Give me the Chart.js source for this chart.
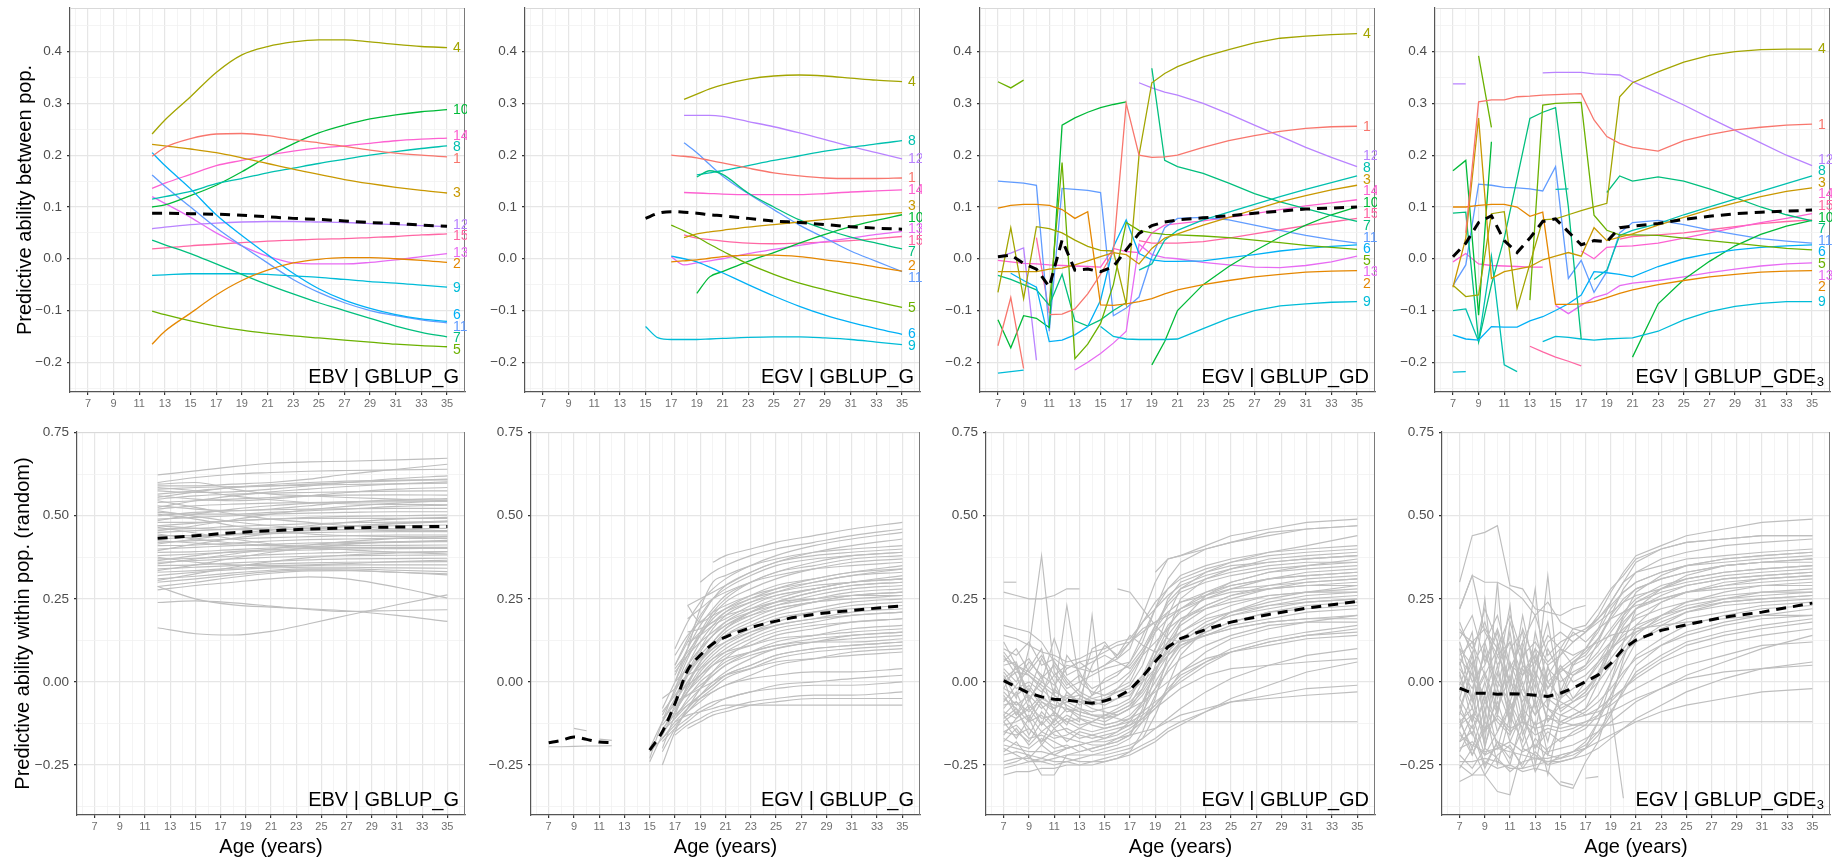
<!DOCTYPE html>
<html>
<head>
<meta charset="utf-8">
<script src="https://cdn.jsdelivr.net/npm/chart.js@4.4.1/dist/chart.umd.min.js"></script>
<style>
  html, body { margin: 0; padding: 0; background: #fff; width: 1833px; height: 859px; overflow: hidden; position: relative; }
  canvas { position: absolute; }
</style>
</head>
<body>
<script>
const NA = null;

// ---------- population colours / ids ----------
const POPS = ['1','2','3','4','5','6','7','8','9','10','11','12','13','14','15'];
const POP_COLORS = ['#F8766D','#E58700','#C99800','#A3A500','#6BB100','#00B0F6','#00BF7D',
                    '#00C0AF','#00BCD8','#00BA38','#619CFF','#B983FF','#E76BF3','#FD61D1','#FF67A4'];

// ---------- top row: predictive ability between populations ----------
const AGES_EBV_G = [12,13,15,17,19,21,23,25,27,29,31,33,35];
const EBV_G_POPS = [
  [0.198,0.215,0.232,0.241,0.242,0.238,0.230,0.224,0.217,0.210,0.204,0.200,0.197],
  [-0.165,-0.140,-0.105,-0.070,-0.042,-0.022,-0.008,-0.001,0.002,0.002,0.000,-0.003,-0.007],
  [0.221,0.218,0.212,0.205,0.195,0.184,0.173,0.163,0.153,0.145,0.138,0.132,0.127],
  [0.241,0.268,0.313,0.360,0.394,0.410,0.419,0.423,0.423,0.419,0.414,0.410,0.408],
  [-0.101,-0.108,-0.120,-0.130,-0.138,-0.144,-0.149,-0.153,-0.157,-0.161,-0.165,-0.168,-0.170],
  [0.205,0.180,0.135,0.085,0.045,0.008,-0.028,-0.058,-0.080,-0.096,-0.108,-0.116,-0.121],
  [0.036,0.027,0.010,-0.010,-0.030,-0.050,-0.068,-0.085,-0.100,-0.115,-0.130,-0.142,-0.151],
  [0.115,0.120,0.130,0.145,0.155,0.166,0.175,0.184,0.192,0.200,0.207,0.213,0.218],
  [-0.032,-0.031,-0.029,-0.029,-0.029,-0.030,-0.033,-0.036,-0.040,-0.044,-0.047,-0.051,-0.055],
  [0.100,0.104,0.122,0.142,0.168,0.197,0.222,0.243,0.258,0.270,0.278,0.284,0.288],
  [0.162,0.140,0.100,0.060,0.025,-0.008,-0.040,-0.065,-0.085,-0.100,-0.110,-0.118,-0.124],
  [0.058,0.061,0.066,0.069,0.071,0.072,0.072,0.071,0.070,0.068,0.066,0.064,0.062],
  [0.120,0.107,0.080,0.050,0.025,0.005,-0.008,-0.010,-0.010,-0.007,-0.002,0.004,0.010],
  [0.136,0.146,0.163,0.180,0.190,0.200,0.208,0.214,0.218,0.223,0.228,0.231,0.233],
  [0.019,0.021,0.025,0.028,0.031,0.034,0.036,0.038,0.039,0.041,0.043,0.046,0.048]
];
const EBV_G_MEAN = [0.088,0.088,0.087,0.086,0.084,0.081,0.078,0.076,0.073,0.070,0.068,0.065,0.063];

const AGES_EGV_G = [15,16,17,18,19,20,21,23,25,27,29,31,33,35];
const EGV_G_POPS = [
  [NA,NA,0.200,0.198,0.195,0.190,0.185,0.175,0.166,0.160,0.156,0.155,0.155,0.156],
  [NA,NA,-0.006,-0.004,-0.002,0.001,0.004,0.007,0.007,0.004,-0.002,-0.008,-0.016,-0.024],
  [NA,NA,NA,0.041,0.048,0.052,0.055,0.061,0.066,0.071,0.076,0.081,0.085,0.089],
  [NA,NA,NA,0.308,0.318,0.328,0.336,0.347,0.353,0.355,0.353,0.349,0.345,0.342],
  [NA,NA,0.065,0.054,0.042,0.028,0.015,-0.010,-0.030,-0.047,-0.060,-0.072,-0.083,-0.094],
  [NA,NA,0.005,0.000,-0.006,-0.016,-0.027,-0.050,-0.072,-0.092,-0.109,-0.123,-0.135,-0.146],
  [NA,NA,NA,NA,0.158,0.170,0.163,0.127,0.100,0.075,0.057,0.042,0.030,0.019],
  [NA,NA,NA,NA,0.162,0.166,0.170,0.180,0.190,0.199,0.208,0.215,0.222,0.228],
  [-0.131,-0.153,-0.156,-0.156,-0.156,-0.155,-0.154,-0.152,-0.151,-0.151,-0.153,-0.156,-0.161,-0.166],
  [NA,NA,NA,NA,-0.067,-0.035,-0.025,-0.005,0.012,0.030,0.047,0.062,0.074,0.085],
  [NA,NA,NA,0.224,0.205,0.182,0.160,0.126,0.095,0.065,0.040,0.015,-0.005,-0.025],
  [NA,NA,NA,0.277,0.277,0.277,0.275,0.265,0.255,0.243,0.230,0.217,0.205,0.193],
  [NA,NA,0.004,-0.012,-0.008,-0.004,0.000,0.010,0.018,0.026,0.033,0.040,0.047,0.053],
  [NA,NA,NA,0.128,0.127,0.126,0.125,0.124,0.124,0.124,0.126,0.129,0.131,0.133],
  [NA,NA,NA,0.046,0.040,0.037,0.034,0.030,0.029,0.030,0.032,0.035,0.039,0.043]
];
const EGV_G_MEAN = [0.078,0.088,0.091,0.090,0.088,0.085,0.083,0.078,0.073,0.070,0.066,0.062,0.059,0.057];

const AGES_EGV_GD = [7,8,9,10,11,12,13,14,15,16,17,18,19,20,21,23,25,27,29,31,33,35];
const EGV_GD_POPS = [
  [-0.168,-0.075,-0.212,NA,-0.108,-0.107,-0.097,-0.068,-0.030,0.014,0.300,0.200,0.196,0.197,0.200,0.215,0.228,0.238,0.246,0.252,0.255,0.256],
  [0.098,0.103,0.105,0.105,0.103,0.095,0.078,0.091,-0.089,-0.090,-0.087,-0.083,-0.077,-0.068,-0.060,-0.050,-0.042,-0.035,-0.030,-0.026,-0.024,-0.023],
  [-0.025,-0.025,-0.025,-0.025,-0.020,-0.018,-0.012,-0.004,0.004,0.012,0.008,-0.010,0.020,0.040,0.048,0.065,0.080,0.095,0.110,0.122,0.133,0.142],
  [-0.065,0.060,-0.077,0.062,0.058,0.050,0.036,0.024,0.016,0.015,-0.088,0.200,0.340,0.358,0.371,0.390,0.404,0.417,0.426,0.430,0.433,0.435],
  [0.342,0.330,0.345,NA,-0.090,0.186,-0.193,-0.165,-0.125,-0.050,0.070,0.055,0.050,0.047,0.046,0.044,0.041,0.036,0.031,0.026,0.022,0.018],
  [NA,-0.028,-0.042,-0.055,-0.160,-0.157,-0.147,-0.131,-0.080,0.023,0.075,0.010,-0.002,-0.005,-0.005,-0.004,0.002,0.008,0.015,0.020,0.024,0.027],
  [-0.032,-0.040,-0.050,-0.060,-0.090,-0.030,-0.120,-0.130,-0.118,-0.100,-0.085,NA,0.368,0.190,0.178,0.165,0.146,0.126,0.110,0.097,0.084,0.072],
  [NA,NA,NA,NA,NA,NA,NA,NA,NA,NA,NA,-0.022,-0.010,0.036,0.055,0.075,0.090,0.105,0.120,0.134,0.147,0.160],
  [-0.221,-0.218,-0.215,NA,NA,NA,NA,NA,-0.131,-0.150,-0.155,-0.156,-0.156,-0.156,-0.155,-0.135,-0.115,-0.100,-0.091,-0.087,-0.084,-0.083],
  [-0.118,-0.172,-0.110,-0.115,-0.133,0.258,0.272,0.283,0.292,0.298,0.303,NA,-0.205,-0.160,-0.100,-0.050,-0.015,0.015,0.042,0.065,0.085,0.100],
  [0.150,0.148,0.146,0.142,-0.140,0.136,0.134,0.132,0.128,-0.110,-0.095,-0.074,0.004,0.060,0.078,0.080,0.075,0.065,0.055,0.045,0.037,0.030],
  [0.004,0.011,0.021,-0.196,NA,NA,NA,NA,NA,NA,NA,0.340,0.330,0.322,0.316,0.300,0.280,0.258,0.237,0.215,0.196,0.178],
  [NA,NA,NA,NA,NA,NA,-0.215,-0.200,-0.183,-0.163,-0.140,0.028,0.008,0.002,0.000,-0.007,-0.012,-0.016,-0.017,-0.013,-0.006,0.005],
  [-0.003,-0.006,-0.009,-0.010,-0.012,-0.013,-0.014,-0.015,-0.016,0.020,0.014,0.012,0.050,0.065,0.068,0.073,0.080,0.087,0.095,0.102,0.108,0.114],
  [NA,NA,NA,0.041,-0.105,NA,NA,NA,NA,NA,NA,0.035,0.030,0.030,0.030,0.033,0.040,0.048,0.056,0.064,0.071,0.078]
];
const EGV_GD_MEAN = [0.004,0.007,-0.009,-0.020,-0.054,0.036,-0.022,-0.020,-0.025,-0.015,0.017,0.049,0.064,0.071,0.075,0.079,0.083,0.088,0.092,0.096,0.098,0.100];

const AGES_EGV_GDE3 = AGES_EGV_GD;
const EGV_GDE3_POPS = [
  [NA,0.050,0.303,0.307,0.307,0.313,0.314,0.316,0.317,0.318,0.319,0.268,0.236,0.223,0.215,0.208,0.228,0.240,0.249,0.254,0.258,0.260],
  [0.100,0.100,0.103,0.105,0.105,0.100,0.082,0.090,-0.088,-0.088,-0.087,-0.083,-0.075,-0.067,-0.060,-0.050,-0.042,-0.035,-0.030,-0.026,-0.024,-0.023],
  [-0.055,0.040,0.272,-0.038,-0.025,-0.020,-0.015,-0.002,0.005,0.012,0.005,0.060,0.035,0.042,0.048,0.065,0.080,0.095,0.108,0.120,0.130,0.137],
  [-0.051,-0.073,-0.070,0.087,0.091,-0.096,-0.010,0.075,0.077,0.085,0.093,0.100,0.107,0.313,0.340,0.361,0.380,0.393,0.400,0.404,0.405,0.405],
  [NA,NA,0.392,0.254,NA,NA,-0.080,0.297,0.300,0.301,0.302,0.084,0.055,0.046,0.046,0.045,0.040,0.035,0.030,0.025,0.020,0.017],
  [-0.147,-0.155,-0.157,-0.131,-0.132,-0.132,-0.120,-0.112,-0.100,-0.087,-0.070,-0.025,-0.027,-0.030,-0.035,-0.015,0.000,0.010,0.017,0.022,0.025,0.027],
  [0.088,0.090,-0.160,-0.050,0.040,0.155,0.271,0.283,0.292,0.100,-0.155,NA,0.128,0.160,0.150,0.158,0.150,0.135,0.118,0.100,0.085,0.073],
  [-0.100,-0.097,-0.160,0.005,-0.205,-0.218,NA,NA,0.134,0.135,NA,-0.040,-0.022,0.045,0.055,0.068,0.085,0.100,0.115,0.130,0.145,0.160],
  [-0.219,-0.218,NA,NA,NA,NA,NA,-0.160,-0.150,-0.152,-0.155,-0.157,-0.155,-0.154,-0.153,-0.140,-0.118,-0.102,-0.092,-0.086,-0.083,-0.083],
  [0.170,0.190,-0.109,0.226,NA,NA,NA,NA,NA,NA,NA,NA,NA,NA,-0.190,-0.087,-0.040,-0.005,0.025,0.047,0.063,0.074],
  [-0.052,-0.012,0.144,0.142,0.138,0.137,0.135,0.131,0.178,-0.038,-0.003,-0.065,-0.025,0.050,0.070,0.074,0.066,0.056,0.047,0.039,0.034,0.030],
  [0.338,0.338,NA,NA,NA,NA,NA,0.359,0.360,0.360,0.360,0.357,0.356,0.355,0.342,0.320,0.297,0.272,0.248,0.224,0.200,0.180],
  [NA,NA,NA,NA,NA,NA,NA,NA,-0.090,-0.106,-0.090,-0.075,-0.068,-0.052,-0.047,-0.042,-0.035,-0.027,-0.020,-0.014,-0.010,-0.008],
  [-0.006,0.010,-0.010,-0.013,-0.014,-0.015,-0.016,-0.016,NA,NA,0.015,0.000,0.022,0.024,0.025,0.030,0.040,0.050,0.060,0.070,0.078,0.087],
  [NA,NA,NA,NA,NA,NA,-0.169,-0.180,-0.190,-0.198,-0.207,NA,NA,0.038,0.043,0.046,0.050,0.056,0.062,0.068,0.072,0.075]
];
const EGV_GDE3_MEAN = [0.004,0.030,0.070,0.083,0.035,0.012,0.040,0.072,0.077,0.052,0.027,0.035,0.033,0.060,0.063,0.068,0.076,0.082,0.087,0.090,0.092,0.094];

// ---------- bottom row: predictive ability within populations (random folds) ----------
const AGES_W_EBV_G = [12,15,18,21,24,27,31,35];
const W_EBV_G_RUNS = [
  [0.623,0.635,0.648,0.658,0.662,0.664,0.668,0.673],
  [0.600,0.615,0.625,0.630,0.634,0.636,0.638,0.640],
  [0.590,0.590,0.595,0.600,0.610,0.625,0.640,0.655],
  [0.580,0.585,0.588,0.590,0.595,0.600,0.605,0.610],
  [0.575,0.570,0.572,0.580,0.590,0.600,0.612,0.620],
  [0.565,0.575,0.585,0.590,0.592,0.594,0.596,0.598],
  [0.560,0.550,0.545,0.550,0.560,0.570,0.580,0.585],
  [0.550,0.560,0.565,0.568,0.570,0.572,0.574,0.575],
  [0.540,0.545,0.550,0.555,0.560,0.562,0.563,0.562],
  [0.530,0.520,0.515,0.520,0.530,0.540,0.548,0.552],
  [0.520,0.530,0.535,0.538,0.540,0.541,0.542,0.543],
  [0.510,0.505,0.505,0.510,0.515,0.520,0.528,0.532],
  [0.500,0.510,0.515,0.518,0.520,0.521,0.522,0.522],
  [0.490,0.495,0.500,0.505,0.508,0.510,0.512,0.512],
  [0.480,0.480,0.485,0.490,0.495,0.498,0.500,0.502],
  [0.470,0.478,0.485,0.490,0.492,0.492,0.492,0.492],
  [0.460,0.462,0.468,0.472,0.476,0.479,0.481,0.482],
  [0.450,0.455,0.460,0.463,0.466,0.468,0.470,0.472],
  [0.440,0.440,0.445,0.450,0.455,0.458,0.460,0.462],
  [0.430,0.436,0.442,0.446,0.449,0.451,0.452,0.452],
  [0.420,0.425,0.430,0.434,0.437,0.440,0.442,0.442],
  [0.410,0.412,0.418,0.424,0.428,0.430,0.432,0.432],
  [0.400,0.405,0.410,0.414,0.418,0.420,0.421,0.422],
  [0.390,0.392,0.398,0.403,0.407,0.410,0.411,0.412],
  [0.380,0.385,0.390,0.394,0.397,0.400,0.401,0.402],
  [0.370,0.372,0.378,0.383,0.387,0.390,0.391,0.392],
  [0.360,0.365,0.370,0.375,0.378,0.380,0.381,0.382],
  [0.350,0.352,0.358,0.363,0.367,0.370,0.371,0.372],
  [0.340,0.345,0.350,0.355,0.358,0.360,0.361,0.362],
  [0.330,0.335,0.342,0.347,0.350,0.352,0.352,0.352],
  [0.320,0.330,0.338,0.343,0.345,0.345,0.343,0.342],
  [0.310,0.318,0.328,0.336,0.340,0.340,0.336,0.332],
  [0.300,0.310,0.322,0.332,0.337,0.336,0.330,0.322],
  [0.287,0.300,0.315,0.327,0.334,0.335,0.330,0.325],
  [0.277,0.290,0.300,0.310,0.316,0.310,0.285,0.252],
  [0.287,0.250,0.232,0.225,0.220,0.214,0.200,0.182],
  [0.239,0.244,0.238,0.228,0.218,0.212,0.215,0.217],
  [0.163,0.145,0.141,0.152,0.175,0.200,0.232,0.262],
  [0.595,0.600,0.580,0.565,0.560,0.555,0.550,0.545],
  [0.545,0.525,0.505,0.490,0.480,0.470,0.460,0.455],
  [0.465,0.448,0.430,0.415,0.405,0.398,0.390,0.385],
  [0.415,0.430,0.445,0.458,0.470,0.480,0.490,0.495],
  [0.355,0.370,0.385,0.400,0.412,0.422,0.432,0.438],
  [0.505,0.490,0.470,0.455,0.445,0.440,0.437,0.436],
  [0.585,0.575,0.560,0.548,0.540,0.536,0.534,0.533],
  [0.525,0.545,0.560,0.572,0.580,0.588,0.596,0.602],
  [0.455,0.470,0.488,0.505,0.518,0.528,0.538,0.545],
  [0.395,0.415,0.432,0.446,0.458,0.468,0.478,0.485],
  [0.445,0.430,0.418,0.410,0.406,0.404,0.403,0.402],
  [0.375,0.360,0.352,0.350,0.352,0.356,0.362,0.366],
  [0.335,0.352,0.372,0.390,0.404,0.414,0.422,0.426],
  [0.485,0.505,0.520,0.530,0.537,0.542,0.546,0.548],
  [0.515,0.498,0.482,0.470,0.462,0.458,0.455,0.454],
  [0.425,0.418,0.412,0.410,0.412,0.416,0.420,0.424],
  [0.365,0.380,0.392,0.398,0.402,0.404,0.405,0.405],
  [0.305,0.325,0.345,0.362,0.374,0.382,0.388,0.392],
  [0.555,0.572,0.585,0.594,0.600,0.604,0.607,0.608],
  [0.470,0.462,0.458,0.458,0.462,0.468,0.476,0.482]
];
const W_EBV_G_MEAN = [0.432,0.440,0.449,0.455,0.460,0.463,0.466,0.468];

const AGES_W_EGV_G_EARLY = [7,8,9,10,11,12];
const W_EGV_G_EARLY_RUNS = [
  [-0.195,-0.195,-0.194,-0.193,-0.193,-0.192],
  [NA,NA,-0.140,-0.147,NA,NA],
  [NA,NA,NA,NA,-0.172,-0.176]
];
const AGES_W_EGV_G_LATE = [15,16,17,18,19,20,21,23,25,28,31,35];
const W_EGV_G_LATE_RUNS = [
  [NA,NA,NA,NA,NA,0.36,0.38,0.40,0.42,0.44,0.46,0.48],
  [NA,NA,NA,NA,0.30,0.33,0.35,0.38,0.40,0.42,0.44,0.46],
  [NA,NA,0.10,0.18,0.24,0.28,0.31,0.35,0.38,0.41,0.43,0.45],
  [NA,NA,NA,0.23,0.25,0.27,0.29,0.33,0.36,0.39,0.41,0.43],
  [NA,NA,0.05,0.12,0.19,0.25,0.29,0.33,0.36,0.38,0.39,0.40],
  [NA,-0.08,0.00,0.08,0.15,0.21,0.25,0.30,0.33,0.36,0.38,0.39],
  [NA,NA,0.02,0.10,0.17,0.22,0.26,0.30,0.33,0.35,0.37,0.38],
  [-0.23,-0.12,-0.02,0.07,0.14,0.20,0.24,0.28,0.31,0.34,0.36,0.37],
  [NA,NA,NA,0.19,0.22,0.25,0.27,0.30,0.32,0.34,0.35,0.36],
  [NA,-0.10,-0.03,0.05,0.12,0.17,0.21,0.25,0.28,0.31,0.33,0.35],
  [NA,NA,-0.05,0.03,0.10,0.16,0.20,0.24,0.27,0.30,0.32,0.34],
  [NA,NA,0.08,0.14,0.18,0.21,0.23,0.26,0.28,0.30,0.32,0.33],
  [NA,-0.15,-0.07,0.02,0.09,0.14,0.18,0.22,0.25,0.28,0.30,0.32],
  [NA,NA,NA,0.11,0.15,0.18,0.21,0.24,0.26,0.28,0.30,0.31],
  [NA,NA,-0.02,0.05,0.10,0.14,0.17,0.21,0.24,0.27,0.29,0.30],
  [-0.20,-0.12,-0.05,0.02,0.08,0.12,0.16,0.20,0.23,0.26,0.28,0.29],
  [NA,NA,0.03,0.08,0.12,0.15,0.18,0.21,0.23,0.25,0.27,0.28],
  [NA,-0.12,-0.06,0.00,0.06,0.10,0.14,0.18,0.21,0.24,0.26,0.27],
  [NA,NA,NA,0.15,0.16,0.18,0.20,0.22,0.24,0.25,0.26,0.26],
  [NA,-0.09,-0.04,0.02,0.07,0.11,0.14,0.17,0.20,0.22,0.24,0.25],
  [NA,NA,-0.08,-0.02,0.04,0.08,0.11,0.15,0.18,0.21,0.23,0.24],
  [-0.24,-0.16,-0.09,-0.03,0.03,0.07,0.10,0.14,0.17,0.19,0.21,0.22],
  [NA,NA,0.00,0.04,0.07,0.10,0.12,0.15,0.17,0.19,0.20,0.21],
  [NA,-0.13,-0.08,-0.03,0.01,0.05,0.08,0.11,0.14,0.16,0.18,0.19],
  [NA,NA,-0.10,-0.06,-0.02,0.02,0.05,0.09,0.12,0.14,0.16,0.17],
  [NA,-0.05,-0.02,0.02,0.04,0.07,0.09,0.11,0.13,0.14,0.15,0.16],
  [-0.21,-0.17,-0.12,-0.08,-0.04,0.00,0.03,0.07,0.10,0.12,0.14,0.15],
  [NA,-0.11,-0.07,-0.04,-0.01,0.02,0.05,0.08,0.10,0.12,0.13,0.14],
  [NA,NA,-0.04,-0.01,0.02,0.05,0.07,0.09,0.11,0.12,0.12,0.13],
  [NA,-0.15,-0.11,-0.07,-0.04,-0.01,0.02,0.05,0.08,0.10,0.11,0.12],
  [NA,NA,-0.13,-0.09,-0.05,-0.02,0.01,0.04,0.07,0.09,0.10,0.11],
  [NA,-0.17,-0.13,-0.09,-0.06,-0.03,-0.01,0.02,0.05,0.07,0.09,0.10],
  [NA,NA,-0.06,-0.04,-0.02,0.00,0.02,0.04,0.06,0.07,0.08,0.09],
  [NA,-0.14,-0.10,-0.07,-0.05,-0.03,-0.01,0.01,0.02,0.03,0.03,0.04],
  [NA,NA,-0.15,-0.12,-0.09,-0.07,-0.05,-0.03,-0.01,0.00,0.01,0.02],
  [NA,-0.18,-0.14,-0.11,-0.08,-0.06,-0.05,-0.03,-0.02,-0.01,-0.01,0.00],
  [NA,NA,-0.16,-0.13,-0.11,-0.09,-0.08,-0.06,-0.05,-0.04,-0.04,-0.03],
  [NA,NA,NA,-0.14,-0.12,-0.10,-0.09,-0.07,-0.06,-0.05,-0.05,-0.05],
  [NA,NA,-0.12,-0.10,-0.09,-0.08,-0.07,-0.07,-0.07,-0.07,-0.07,-0.07],
  [NA,-0.25,-0.15,-0.08,-0.02,0.03,0.07,0.12,0.15,0.17,0.18,0.19],
  [NA,NA,0.00,0.10,0.22,0.30,0.32,0.35,0.37,0.39,0.40,0.41],
  [NA,NA,NA,0.23,0.18,0.20,0.22,0.25,0.27,0.29,0.30,0.31],
  [NA,NA,0.05,0.13,0.20,0.25,0.28,0.32,0.35,0.37,0.38,0.39],
  [NA,-0.20,-0.10,-0.01,0.06,0.12,0.16,0.21,0.24,0.27,0.29,0.30],
  [NA,NA,-0.09,-0.01,0.06,0.11,0.15,0.19,0.22,0.24,0.26,0.27],
  [NA,NA,NA,0.05,0.10,0.14,0.17,0.20,0.22,0.24,0.25,0.26],
  [NA,-0.16,-0.09,-0.03,0.02,0.06,0.09,0.13,0.16,0.18,0.20,0.21],
  [NA,NA,-0.11,-0.05,0.00,0.03,0.06,0.09,0.11,0.13,0.14,0.15],
  [NA,NA,0.04,0.09,0.14,0.19,0.22,0.26,0.29,0.31,0.33,0.34],
  [NA,-0.21,-0.14,-0.08,-0.04,-0.01,0.02,0.05,0.08,0.10,0.11,0.12],
  [NA,NA,NA,0.12,0.14,0.17,0.19,0.23,0.26,0.28,0.30,0.31],
  [NA,NA,-0.06,0.00,0.05,0.09,0.12,0.16,0.19,0.21,0.22,0.23]
];
const AGES_W_EGV_G_MEAN = [7,8,9,10,11,12,13,15,16,17,18,19,20,21,23,25,28,31,35];
const W_EGV_G_MEAN = [-0.183,-0.176,-0.166,-0.173,-0.181,-0.183,NA,-0.205,-0.150,-0.065,0.035,0.080,0.115,0.135,0.163,0.183,0.203,0.215,0.229];

const AGES_W_GD = [7,8,9,10,11,12,13,14,15,16,17,18,19,20,21,23,25,28,31,35];
const W_EGV_GD_RUNS = [
  [0.10,0.08,0.12,0.05,0.07,0.04,0.06,0.03,0.05,0.07,0.10,0.20,0.30,0.37,0.38,0.41,0.44,0.46,0.48,0.49],
  [0.27,0.26,0.25,0.25,0.26,0.28,0.28,NA,NA,NA,NA,NA,NA,NA,NA,NA,NA,NA,NA,NA],
  [0.30,0.30,NA,NA,NA,NA,NA,NA,NA,NA,NA,NA,NA,NA,NA,NA,NA,NA,NA,NA],
  [0.02,-0.05,0.10,0.38,0.03,-0.02,0.00,0.02,0.04,0.05,0.06,0.12,0.22,0.31,0.36,0.40,0.42,0.44,0.46,0.47],
  [-0.05,-0.08,-0.12,-0.10,-0.14,-0.11,-0.13,-0.12,-0.10,-0.09,-0.07,0.00,0.10,0.20,0.28,0.33,0.36,0.39,0.41,0.44],
  [0.05,0.06,-0.05,0.00,0.13,0.02,0.04,0.03,0.05,0.08,0.12,0.18,0.24,0.28,0.31,0.34,0.36,0.38,0.39,0.40],
  [-0.10,-0.15,-0.18,-0.12,-0.16,-0.17,-0.18,-0.19,-0.19,-0.18,-0.16,-0.10,0.02,0.15,0.25,0.31,0.34,0.37,0.38,0.39],
  [0.00,0.03,0.02,-0.02,-0.06,-0.04,-0.06,-0.05,-0.04,-0.03,-0.01,0.05,0.15,0.25,0.30,0.33,0.35,0.36,0.37,0.38],
  [-0.20,-0.22,-0.24,-0.23,-0.24,-0.24,-0.25,-0.25,-0.24,-0.23,-0.21,-0.15,-0.05,0.08,0.18,0.26,0.30,0.33,0.35,0.37],
  [0.08,0.02,-0.08,-0.04,0.06,0.01,-0.03,-0.05,-0.06,-0.02,0.00,0.08,0.17,0.24,0.28,0.31,0.33,0.35,0.36,0.36],
  [-0.13,-0.12,-0.10,-0.15,-0.12,-0.08,-0.10,-0.11,-0.12,-0.10,-0.08,-0.02,0.08,0.16,0.22,0.27,0.30,0.33,0.34,0.35],
  [0.12,0.05,0.03,0.00,-0.03,-0.05,-0.02,0.10,0.12,0.07,0.12,0.16,0.18,0.20,0.22,0.26,0.29,0.31,0.33,0.34],
  [-0.03,-0.07,-0.04,-0.08,-0.05,-0.09,-0.08,-0.09,-0.08,-0.07,-0.05,0.02,0.10,0.17,0.21,0.25,0.28,0.31,0.32,0.33],
  [-0.17,-0.19,-0.20,-0.17,-0.20,-0.19,-0.21,-0.20,-0.19,-0.18,-0.16,-0.08,0.05,0.12,0.18,0.23,0.26,0.29,0.31,0.32],
  [0.04,0.00,0.06,0.02,-0.01,0.04,0.06,0.07,0.09,0.11,0.12,0.15,0.18,0.21,0.24,0.26,0.28,0.29,0.30,0.31],
  [-0.08,-0.03,-0.12,-0.06,-0.09,-0.13,-0.05,-0.07,-0.06,-0.05,-0.04,0.01,0.08,0.14,0.19,0.23,0.26,0.28,0.29,0.30],
  [-0.26,-0.25,-0.24,-0.24,-0.25,-0.24,-0.23,-0.22,-0.22,-0.21,-0.20,-0.17,-0.10,-0.01,0.08,0.16,0.21,0.25,0.27,0.29],
  [0.01,-0.10,-0.05,-0.13,-0.02,-0.06,-0.08,-0.10,-0.11,-0.09,-0.07,-0.03,0.03,0.10,0.15,0.20,0.23,0.26,0.27,0.28],
  [-0.06,-0.01,0.04,0.10,-0.04,0.23,0.00,-0.03,-0.04,-0.02,0.02,0.08,0.12,0.16,0.19,0.22,0.24,0.26,0.27,0.27],
  [-0.15,-0.16,-0.14,-0.18,-0.15,-0.14,-0.16,-0.17,-0.16,-0.15,-0.13,-0.09,-0.02,0.06,0.12,0.17,0.20,0.23,0.25,0.26],
  [0.07,0.05,0.02,-0.01,-0.04,-0.07,-0.09,-0.10,-0.11,-0.10,-0.08,-0.04,0.02,0.08,0.12,0.17,0.20,0.22,0.24,0.25],
  [-0.11,-0.08,-0.16,-0.09,-0.13,-0.10,-0.12,0.20,-0.13,-0.12,-0.10,-0.06,0.00,0.06,0.11,0.15,0.18,0.21,0.23,0.24],
  [0.17,0.16,0.15,0.12,0.06,0.00,-0.04,-0.06,-0.07,-0.05,-0.03,0.00,0.04,0.08,0.11,0.14,0.17,0.19,0.21,0.22],
  [-0.22,-0.21,-0.22,-0.28,-0.28,-0.22,-0.21,-0.20,-0.19,-0.17,-0.15,-0.12,-0.08,-0.03,0.03,0.09,0.13,0.16,0.18,0.20],
  [-0.02,-0.04,-0.01,-0.06,-0.08,-0.06,-0.05,0.05,0.11,0.08,0.14,0.11,0.09,0.11,0.12,0.14,0.16,0.18,0.19,0.19],
  [-0.18,-0.14,-0.19,-0.15,-0.17,-0.16,-0.14,-0.15,-0.14,-0.13,-0.12,-0.10,-0.07,-0.03,0.01,0.06,0.10,0.13,0.15,0.17],
  [-0.09,-0.11,-0.07,-0.11,-0.10,-0.12,-0.11,-0.12,-0.13,-0.12,-0.11,-0.09,-0.06,-0.03,0.00,0.05,0.09,0.12,0.14,0.16],
  [0.03,-0.02,0.00,-0.03,0.02,-0.03,-0.06,-0.08,-0.09,-0.10,-0.08,-0.06,-0.03,0.00,0.03,0.07,0.09,0.11,0.13,0.14],
  [-0.24,-0.23,-0.23,-0.24,-0.23,-0.22,-0.22,-0.22,-0.21,-0.20,-0.19,-0.17,-0.14,-0.11,-0.08,-0.03,0.01,0.05,0.08,0.10],
  [-0.28,-0.27,-0.27,-0.26,-0.26,-0.25,-0.25,-0.24,-0.24,-0.23,-0.22,-0.20,-0.18,-0.15,-0.13,-0.09,-0.05,-0.01,0.03,0.06],
  [-0.12,-0.17,-0.11,-0.19,-0.14,-0.18,-0.15,-0.16,-0.15,-0.14,-0.13,-0.11,-0.08,-0.05,-0.02,0.02,0.04,0.05,0.06,0.07],
  [-0.07,-0.06,-0.09,-0.05,-0.07,-0.08,-0.09,-0.10,-0.10,-0.11,-0.12,-0.12,-0.12,-0.12,-0.12,-0.12,-0.12,-0.12,-0.12,-0.12],
  [-0.19,-0.20,-0.21,-0.21,-0.22,-0.23,-0.24,-0.24,-0.23,-0.22,-0.21,-0.19,-0.17,-0.14,-0.12,-0.09,-0.06,-0.04,-0.02,-0.01],
  [-0.15,-0.13,-0.17,-0.16,-0.18,-0.20,-0.19,-0.18,-0.18,-0.17,-0.16,-0.15,-0.14,-0.12,-0.10,-0.08,-0.06,-0.05,-0.04,-0.03],
  [NA,NA,NA,NA,NA,NA,NA,NA,NA,0.28,0.27,0.22,0.17,0.13,0.12,0.14,0.16,0.18,0.19,0.20],
  [NA,NA,NA,NA,NA,NA,NA,NA,NA,NA,NA,NA,0.33,0.37,0.38,0.40,0.42,0.45,0.46,0.47],
  [0.14,0.13,0.11,0.09,0.08,0.06,0.07,0.09,0.10,0.12,0.13,0.18,0.22,0.26,0.29,0.32,0.34,0.36,0.37,0.38],
  [-0.02,0.05,-0.06,0.02,-0.10,0.08,0.03,-0.04,0.01,0.03,0.05,0.10,0.17,0.23,0.27,0.30,0.32,0.34,0.35,0.36],
  [-0.12,-0.09,-0.14,-0.18,-0.11,-0.15,-0.17,-0.16,-0.17,-0.15,-0.12,-0.06,0.03,0.11,0.17,0.22,0.25,0.28,0.30,0.31],
  [0.06,0.10,0.03,0.08,0.02,0.05,0.04,0.06,0.08,0.06,0.04,0.09,0.16,0.21,0.24,0.27,0.29,0.31,0.32,0.33],
  [-0.21,-0.18,-0.23,-0.19,-0.22,-0.20,-0.19,-0.21,-0.20,-0.19,-0.17,-0.12,-0.04,0.04,0.10,0.15,0.18,0.21,0.22,0.23],
  [-0.04,-0.10,-0.02,-0.07,-0.12,-0.03,-0.07,-0.04,-0.02,0.00,0.03,0.09,0.15,0.19,0.22,0.25,0.27,0.28,0.29,0.29],
  [0.01,0.04,-0.03,0.07,0.00,-0.08,-0.11,-0.13,-0.14,-0.13,-0.11,-0.07,-0.02,0.03,0.07,0.11,0.14,0.17,0.18,0.18],
  [-0.16,-0.11,-0.08,-0.13,-0.09,-0.12,-0.14,-0.12,-0.10,-0.08,-0.06,-0.02,0.04,0.09,0.13,0.18,0.21,0.24,0.26,0.27],
  [0.09,0.04,0.07,0.01,0.05,-0.01,0.02,-0.02,0.00,0.02,0.06,0.14,0.22,0.28,0.32,0.35,0.37,0.39,0.40,0.41],
  [-0.10,-0.06,-0.11,-0.04,-0.08,-0.05,-0.04,-0.06,-0.05,-0.03,-0.02,0.02,0.07,0.12,0.15,0.19,0.21,0.23,0.24,0.25],
  [-0.25,-0.24,-0.22,-0.23,-0.21,-0.20,-0.19,-0.18,-0.17,-0.16,-0.14,-0.11,-0.07,-0.02,0.02,0.06,0.09,0.12,0.14,0.15]
];
const W_EGV_GD_MEAN = [0.004,-0.015,-0.034,-0.045,-0.052,-0.055,-0.060,-0.064,-0.057,-0.045,-0.024,0.016,0.061,0.105,0.130,0.158,0.180,0.203,0.222,0.242];

const W_EGV_GDE3_RUNS = [
  [0.30,0.44,0.45,0.47,0.29,0.28,0.22,0.21,0.20,0.22,0.23,NA,NA,NA,NA,NA,NA,NA,NA,NA],
  [0.22,0.32,0.15,0.08,0.12,-0.02,0.10,0.05,0.08,0.12,0.15,0.20,0.27,0.33,0.38,0.41,0.44,0.46,0.48,0.49],
  [0.10,-0.05,0.25,-0.10,0.18,0.05,0.28,-0.08,0.10,0.16,0.17,0.22,0.28,0.32,0.37,0.40,0.42,0.43,0.44,0.44],
  [-0.05,0.08,-0.12,0.30,-0.15,0.12,-0.02,0.32,-0.05,0.02,0.05,0.12,0.20,0.28,0.33,0.37,0.39,0.41,0.42,0.43],
  [0.15,0.12,0.16,0.10,0.20,0.08,0.12,0.06,0.10,0.08,0.10,0.16,0.24,0.30,0.33,0.35,0.37,0.38,0.39,0.40],
  [-0.12,-0.20,-0.08,-0.25,-0.10,-0.18,-0.05,-0.22,-0.12,-0.10,-0.08,0.00,0.10,0.20,0.27,0.32,0.35,0.37,0.38,0.39],
  [0.05,0.15,-0.15,0.02,0.23,-0.10,0.15,0.00,-0.05,0.05,0.10,0.15,0.22,0.27,0.30,0.33,0.35,0.36,0.37,0.38],
  [-0.25,-0.28,-0.28,-0.33,-0.34,-0.20,-0.22,-0.25,-0.24,-0.23,-0.20,-0.12,0.00,0.12,0.22,0.28,0.32,0.35,0.36,0.37],
  [0.02,-0.08,0.10,-0.05,0.05,-0.12,0.08,-0.02,0.03,0.06,0.08,0.13,0.20,0.25,0.28,0.31,0.33,0.35,0.36,0.36],
  [-0.18,-0.10,-0.22,-0.15,-0.06,-0.20,-0.12,-0.28,-0.10,-0.08,-0.05,0.02,0.12,0.19,0.24,0.28,0.31,0.33,0.34,0.35],
  [0.12,0.00,0.05,0.15,-0.02,0.20,0.02,0.12,0.15,0.12,0.15,0.18,0.21,0.24,0.26,0.28,0.30,0.32,0.33,0.34],
  [-0.08,0.03,-0.18,0.12,-0.08,0.00,-0.15,0.05,-0.09,-0.06,-0.03,0.03,0.10,0.17,0.22,0.26,0.29,0.31,0.32,0.33],
  [-0.30,-0.28,-0.24,-0.26,-0.25,-0.27,-0.26,-0.27,-0.31,-0.32,-0.24,-0.18,-0.06,0.07,0.17,0.24,0.27,0.30,0.31,0.32],
  [0.08,0.12,0.02,-0.10,0.10,0.15,-0.05,0.10,0.02,-0.05,0.00,0.06,0.12,0.18,0.22,0.25,0.27,0.29,0.30,0.31],
  [-0.15,-0.22,-0.12,-0.18,-0.25,-0.10,-0.20,-0.15,-0.18,-0.15,-0.13,-0.08,0.00,0.08,0.14,0.20,0.24,0.27,0.29,0.30],
  [0.00,-0.05,0.03,-0.08,0.06,-0.04,-0.10,0.02,0.08,0.15,0.12,0.16,0.19,0.21,0.23,0.25,0.27,0.28,0.29,0.29],
  [-0.10,0.05,-0.20,-0.02,-0.12,0.10,-0.25,-0.08,-0.12,-0.10,-0.08,-0.04,0.03,0.10,0.15,0.19,0.22,0.25,0.27,0.28],
  [0.04,-0.02,0.08,0.00,-0.06,0.05,0.00,-0.12,-0.05,-0.02,0.00,0.05,0.10,0.14,0.17,0.20,0.23,0.25,0.26,0.27],
  [-0.20,-0.18,-0.22,-0.20,-0.18,-0.21,-0.19,-0.22,-0.23,-0.21,-0.18,-0.12,-0.04,0.05,0.12,0.17,0.21,0.24,0.25,0.26],
  [0.16,0.10,0.18,0.05,0.12,0.02,0.08,-0.02,0.05,0.00,0.02,0.06,0.10,0.13,0.15,0.18,0.21,0.23,0.24,0.25],
  [-0.05,-0.12,0.00,-0.15,-0.08,-0.02,-0.10,-0.05,-0.08,-0.06,-0.04,0.00,0.05,0.09,0.12,0.16,0.19,0.21,0.23,0.24],
  [-0.22,-0.26,-0.20,-0.23,-0.27,-0.24,-0.23,-0.24,-0.23,-0.22,-0.20,-0.16,-0.10,-0.02,0.05,0.11,0.15,0.18,0.20,0.22],
  [0.10,0.05,0.12,0.20,0.05,0.02,0.06,0.00,0.04,0.07,0.10,0.12,0.14,0.15,0.16,0.17,0.18,0.19,0.20,0.20],
  [-0.12,-0.08,-0.15,-0.10,-0.14,-0.12,-0.16,-0.14,-0.15,-0.14,-0.12,-0.10,-0.06,-0.02,0.02,0.07,0.11,0.14,0.16,0.18],
  [-0.03,0.06,-0.06,0.03,-0.10,0.04,-0.04,-0.08,-0.10,-0.11,-0.10,-0.08,-0.05,-0.02,0.01,0.06,0.09,0.12,0.14,0.16],
  [-0.18,-0.15,-0.26,-0.18,-0.20,-0.25,-0.17,-0.21,-0.20,-0.19,-0.17,-0.15,-0.12,-0.09,-0.06,-0.02,0.02,0.06,0.10,0.14],
  [0.07,0.02,-0.04,0.08,0.00,-0.06,0.03,-0.04,-0.06,-0.08,-0.10,-0.09,-0.07,-0.04,-0.02,0.02,0.05,0.08,0.11,0.12],
  [-0.24,-0.24,-0.23,-0.24,-0.26,-0.26,-0.25,-0.24,-0.24,-0.23,-0.22,-0.20,-0.17,-0.14,-0.11,-0.07,-0.03,0.01,0.04,0.06],
  [-0.09,-0.14,-0.06,-0.12,-0.16,-0.08,-0.13,-0.11,-0.12,-0.13,-0.12,-0.11,-0.09,-0.07,-0.05,-0.02,0.01,0.03,0.04,0.05],
  [-0.16,-0.19,-0.21,-0.20,-0.21,-0.22,-0.23,-0.23,-0.22,-0.21,-0.20,-0.18,-0.16,-0.14,-0.12,-0.09,-0.07,-0.05,-0.03,-0.02],
  [-0.13,-0.10,-0.14,-0.11,-0.15,-0.12,-0.14,-0.13,-0.14,-0.13,-0.13,-0.13,-0.13,-0.12,-0.12,-0.12,-0.12,-0.12,-0.12,-0.12],
  [NA,NA,NA,NA,NA,NA,NA,NA,-0.30,-0.31,NA,NA,NA,NA,NA,NA,NA,NA,NA,NA],
  [NA,NA,NA,NA,NA,NA,NA,NA,NA,NA,-0.29,-0.285,NA,NA,NA,NA,NA,NA,NA,NA],
  [NA,NA,NA,NA,NA,NA,NA,NA,NA,NA,NA,NA,-0.08,-0.35,NA,NA,NA,NA,NA,NA],
  [0.22,0.32,0.30,0.30,0.28,0.25,0.20,0.24,0.18,0.16,0.15,0.19,0.24,0.30,0.36,0.40,0.42,0.43,0.44,0.44],
  [0.03,-0.12,0.12,-0.02,0.15,-0.08,0.05,0.18,-0.03,0.06,0.09,0.13,0.19,0.24,0.28,0.31,0.33,0.35,0.36,0.37],
  [-0.14,-0.04,-0.19,-0.08,0.02,-0.16,-0.06,-0.18,-0.02,-0.06,-0.03,0.02,0.09,0.15,0.20,0.24,0.27,0.29,0.31,0.32],
  [0.13,0.20,0.06,0.16,0.04,0.12,0.20,0.08,0.12,0.14,0.16,0.19,0.23,0.27,0.30,0.33,0.35,0.37,0.38,0.39],
  [-0.21,-0.13,-0.25,-0.18,-0.23,-0.14,-0.27,-0.20,-0.17,-0.16,-0.14,-0.10,-0.04,0.02,0.08,0.13,0.17,0.20,0.22,0.23],
  [0.06,-0.06,0.02,0.10,-0.04,0.08,-0.08,0.04,0.00,0.03,0.05,0.09,0.15,0.20,0.24,0.27,0.29,0.31,0.32,0.33],
  [-0.07,-0.16,-0.04,-0.20,-0.06,-0.14,0.02,-0.12,-0.07,-0.05,-0.02,0.02,0.07,0.12,0.16,0.20,0.22,0.24,0.25,0.26],
  [0.18,0.08,0.22,0.12,0.00,0.16,0.06,0.14,0.10,0.05,0.07,0.11,0.16,0.21,0.25,0.29,0.31,0.33,0.34,0.35],
  [-0.26,-0.20,-0.28,-0.22,-0.19,-0.26,-0.21,-0.25,-0.22,-0.21,-0.19,-0.15,-0.09,-0.03,0.03,0.08,0.12,0.15,0.17,0.19],
  [-0.01,0.09,-0.09,0.05,-0.12,0.02,0.10,-0.06,0.04,0.02,0.04,0.08,0.12,0.16,0.19,0.22,0.24,0.26,0.27,0.27],
  [-0.11,-0.22,-0.14,-0.06,-0.18,-0.09,-0.20,-0.10,-0.13,-0.11,-0.09,-0.06,-0.02,0.03,0.07,0.11,0.14,0.17,0.19,0.20]
];
const W_EGV_GDE3_MEAN = [-0.019,-0.034,-0.034,-0.037,-0.036,-0.037,-0.040,-0.044,-0.034,-0.019,0.001,0.021,0.056,0.100,0.126,0.155,0.172,0.195,0.210,0.237];

// ---------- drawing helpers ----------
const FONT = '"Liberation Sans", Arial, Helvetica, sans-serif';
Chart.defaults.font.family = FONT;
Chart.defaults.animation = false;

const GRID_MAJOR = '#E6E6E6';
const GRID_MINOR = '#F1F1F1';

function pts(ages, vals) {
  return ages.map((a, i) => ({ x: a, y: vals[i] }));
}
function minus(s) { return s.replace('-', '\u2212'); }

function spread(items, gap) {
  items.sort((a, b) => a.y - b.y);
  for (let it = 0; it < 300; it++) {
    let moved = false;
    for (let i = 1; i < items.length; i++) {
      const d = items[i].y - items[i - 1].y;
      if (d < gap - 0.01) {
        const s = (gap - d) / 2;
        items[i - 1].y -= s; items[i].y += s; moved = true;
      }
    }
    if (!moved) break;
  }
}

// frame, end-of-line population labels and the panel caption
const panelDecor = {
  id: 'panelDecor',
  afterDatasetsDraw(chart, args, opts) {
    const { ctx, chartArea: a, scales } = chart;
    const xs = scales.x, ys = scales.y;
    ctx.save();
    ctx.lineWidth = 1;
    ctx.strokeStyle = '#D9D9D9';
    ctx.beginPath(); ctx.moveTo(a.left, a.top + 0.5); ctx.lineTo(a.right, a.top + 0.5); ctx.stroke();
    ctx.strokeStyle = '#7A7A7A';
    ctx.beginPath(); ctx.moveTo(a.right - 0.5, a.top); ctx.lineTo(a.right - 0.5, a.bottom); ctx.stroke();

    const items = [];
    chart.data.datasets.forEach(ds => {
      if (!ds.endLabel) return;
      let last = null;
      for (let i = ds.data.length - 1; i >= 0; i--) {
        if (ds.data[i].y !== null) { last = ds.data[i]; break; }
      }
      if (last) items.push({ text: ds.endLabel, color: ds.borderColor, y: ys.getPixelForValue(last.y), x: xs.getPixelForValue(last.x) });
    });
    if (items.length) {
      spread(items, 11.6);
      ctx.font = '14px ' + FONT;
      ctx.textAlign = 'left';
      ctx.textBaseline = 'middle';
      items.forEach(it => {
        ctx.fillStyle = it.color;
        ctx.fillText(it.text, it.x + 6, it.y + 0.5);
      });
    }

    if (opts.caption) {
      const xr = a.right - 6, yb = a.bottom - 9.5;
      ctx.fillStyle = '#000';
      ctx.textBaseline = 'alphabetic';
      ctx.textAlign = 'right';
      let subW = 0;
      if (opts.sub) {
        ctx.font = '13px ' + FONT;
        subW = ctx.measureText(opts.sub).width;
        ctx.fillText(opts.sub, xr, yb + 3.5);
      }
      ctx.font = '20px ' + FONT;
      ctx.fillText(opts.caption, xr - subW - (opts.sub ? 0.5 : 0), yb);
    }
    ctx.restore();
  }
};
Chart.register(panelDecor);

function xScaleOpts(axisH, withTitle) {
  const major = v => Number.isInteger(v) && Math.abs(v % 2) === 1;
  return {
    type: 'linear', min: 5.6, max: 36.4,
    ticks: {
      stepSize: 1, includeBounds: false, autoSkip: false, maxRotation: 0, minRotation: 0,
      padding: 2, color: '#707070', font: { size: 11 },
      callback: v => major(v) ? String(v) : ''
    },
    grid: {
      color: c => major(c.tick.value) ? GRID_MAJOR : GRID_MINOR,
      lineWidth: c => major(c.tick.value) ? 1.2 : 0.8,
      tickColor: c => major(c.tick.value) ? '#333333' : 'rgba(0,0,0,0)',
      tickLength: 3, drawTicks: true
    },
    border: { display: true, color: '#555555', width: 1.2 },
    title: withTitle
      ? { display: true, text: 'Age (years)', color: '#000', font: { size: 20, lineHeight: 1.2 }, padding: { top: 0, bottom: 0 } }
      : { display: false },
    afterFit: s => { s.height = axisH; s.paddingLeft = 0; s.paddingRight = 0; }
  };
}

function yScaleOpts(kind, axisW, title, titlePad) {
  const top = kind === 'top';
  const isMajor = top ? (v => Math.round(v * 100) % 10 === 0)
                      : (v => Math.round(v * 1000) % 250 === 0);
  return {
    type: 'linear',
    min: top ? -0.2574 : -0.4005,
    max: top ? 0.4844 : 0.752,
    ticks: {
      stepSize: top ? 0.05 : 0.125, includeBounds: false, autoSkip: false,
      padding: 5, color: '#4D4D4D', font: { size: 13.5 },
      callback: v => isMajor(v) ? minus((Math.abs(v) < 1e-9 ? 0 : v).toFixed(top ? 1 : 2)) : ''
    },
    grid: {
      color: c => isMajor(c.tick.value) ? GRID_MAJOR : GRID_MINOR,
      lineWidth: c => isMajor(c.tick.value) ? 1.2 : 0.8,
      tickColor: c => isMajor(c.tick.value) ? '#333333' : 'rgba(0,0,0,0)',
      tickLength: 3, drawTicks: true
    },
    border: { display: true, color: '#555555', width: 1.2 },
    title: title
      ? { display: true, text: title, color: '#000', font: { size: 20, lineHeight: 1.2 }, padding: { top: titlePad, bottom: 0 } }
      : { display: false },
    afterFit: s => { s.width = axisW; s.paddingTop = 0; s.paddingBottom = 0; }
  };
}

function makePanel(p) {
  const cv = document.createElement('canvas');
  cv.width = p.w; cv.height = p.h;
  cv.style.left = p.left + 'px'; cv.style.top = p.top + 'px';
  cv.style.width = p.w + 'px'; cv.style.height = p.h + 'px';
  document.body.appendChild(cv);
  new Chart(cv.getContext('2d'), {
    type: 'line',
    data: { datasets: p.datasets },
    options: {
      responsive: false, devicePixelRatio: 1, animation: false,
      layout: { padding: { top: p.padTop, right: p.padRight, left: 0, bottom: 0 } },
      plugins: {
        legend: { display: false }, tooltip: { enabled: false },
        panelDecor: { caption: p.caption, sub: p.sub }
      },
      elements: { point: { radius: 0 } },
      scales: {
        x: xScaleOpts(p.xAxisH, p.xTitle),
        y: yScaleOpts(p.kind, p.yAxisW, p.yTitle, p.yTitlePad)
      }
    }
  });
}

function meanSet(ages, vals, smooth) {
  return {
    data: pts(ages, vals), borderColor: '#000000', borderWidth: 3, borderDash: [10, 7],
    pointRadius: 0, fill: false, spanGaps: false, order: -1,
    cubicInterpolationMode: smooth ? 'monotone' : 'default', tension: 0
  };
}
function popSets(ages, rows, smooth) {
  return rows.map((vals, i) => ({
    data: pts(ages, vals), borderColor: POP_COLORS[i], borderWidth: 1.3,
    pointRadius: 0, fill: false, spanGaps: false, endLabel: POPS[i],
    cubicInterpolationMode: smooth ? 'monotone' : 'default', tension: 0
  }));
}
function greySets(ages, rows, smooth) {
  return rows.map(vals => ({
    data: pts(ages, vals), borderColor: '#BEBEBE', borderWidth: 1.15,
    pointRadius: 0, fill: false, spanGaps: false,
    cubicInterpolationMode: smooth ? 'monotone' : 'default', tension: 0
  }));
}

// ---------- layout: four columns, two rows ----------
const COL_LEFT = [0, 470, 925, 1380];
const TOP_PLOT = [[70, 465], [525, 920], [980, 1375], [1435, 1830]];
const BOT_PLOT = [[77, 465], [531, 920], [986, 1375], [1442, 1830]];
const CAPTIONS = [['EBV | GBLUP_G', ''], ['EGV | GBLUP_G', ''], ['EGV | GBLUP_GD', ''], ['EGV | GBLUP_GDE', '3']];

const TOP_SETS = [
  [meanSet(AGES_EBV_G, EBV_G_MEAN, true)].concat(popSets(AGES_EBV_G, EBV_G_POPS, true)),
  [meanSet(AGES_EGV_G, EGV_G_MEAN, true)].concat(popSets(AGES_EGV_G, EGV_G_POPS, true)),
  [meanSet(AGES_EGV_GD, EGV_GD_MEAN, false)].concat(popSets(AGES_EGV_GD, EGV_GD_POPS, false)),
  [meanSet(AGES_EGV_GDE3, EGV_GDE3_MEAN, false)].concat(popSets(AGES_EGV_GDE3, EGV_GDE3_POPS, false))
];
const BOT_SETS = [
  [meanSet(AGES_W_EBV_G, W_EBV_G_MEAN, true)].concat(greySets(AGES_W_EBV_G, W_EBV_G_RUNS, true)),
  [meanSet(AGES_W_EGV_G_MEAN, W_EGV_G_MEAN, true)]
    .concat(greySets(AGES_W_EGV_G_EARLY, W_EGV_G_EARLY_RUNS, false))
    .concat(greySets(AGES_W_EGV_G_LATE, W_EGV_G_LATE_RUNS, true)),
  [meanSet(AGES_W_GD, W_EGV_GD_MEAN, false)].concat(greySets(AGES_W_GD, W_EGV_GD_RUNS, false)),
  [meanSet(AGES_W_GD, W_EGV_GDE3_MEAN, false)].concat(greySets(AGES_W_GD, W_EGV_GDE3_RUNS, false))
];

for (let c = 0; c < 4; c++) {
  const [tl, tr] = TOP_PLOT[c];
  makePanel({
    kind: 'top', left: COL_LEFT[c], top: 0, w: tr + 2 - COL_LEFT[c], h: 414,
    padTop: 8, padRight: 2, yAxisW: tl - COL_LEFT[c], xAxisH: 22,
    yTitle: c === 0 ? 'Predictive ability between pop.' : null, yTitlePad: 13,
    xTitle: false, caption: CAPTIONS[c][0], sub: CAPTIONS[c][1],
    datasets: TOP_SETS[c]
  });
  const [bl, br] = BOT_PLOT[c];
  makePanel({
    kind: 'bottom', left: COL_LEFT[c], top: 418, w: br + 2 - COL_LEFT[c], h: 441,
    padTop: 14, padRight: 2, yAxisW: bl - COL_LEFT[c], xAxisH: 44,
    yTitle: c === 0 ? 'Predictive ability within pop. (random)' : null, yTitlePad: 11,
    xTitle: true, caption: CAPTIONS[c][0], sub: CAPTIONS[c][1],
    datasets: BOT_SETS[c]
  });
}
</script>
</body>
</html>
